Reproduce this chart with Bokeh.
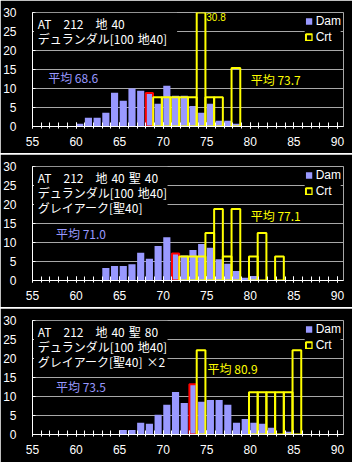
from bokeh.plotting import figure
from bokeh.models import Range1d, FixedTicker, Label, BoxAnnotation, Legend, LegendItem
from bokeh.layouts import column
from bokeh.embed import file_html
from bokeh.resources import INLINE

# ---------------- data ----------------
x_ticks = [55, 60, 65, 70, 75, 80, 85, 90]
y_ticks = [0, 5, 10, 15, 20, 25, 30]

# panel 1 : AT 212 地 40
p1_title = ["AT  212  地 40", "デュランダル[100 地40]"]
p1_dam_bins = [60, 61, 62, 63, 64, 65, 66, 67, 68, 69, 70, 71, 72, 73, 74, 75, 76, 77, 78]
p1_dam_pct = [0.7, 2.3, 2.3, 3.6, 8.9, 6.8, 10.0, 9.4, 8.8, 6.0, 10.7, 8.1, 8.1, 5.4, 3.6, 6.0, 1.5, 1.5, 0.7]
p1_crt_bins = [69, 70, 71, 72, 73, 74, 75, 76, 78]
p1_crt_pct = [7.7, 7.7, 7.7, 7.7, 7.7, 30.8, 7.7, 7.7, 15.4]
p1_dam_mean = 68.6
p1_crt_mean = 73.7

# panel 2 : AT 212 地 40 聖 40
p2_title = ["AT  212  地 40 聖 40", "デュランダル[100 地40]", "グレイアーク[聖40]"]
p2_dam_bins = [63, 64, 65, 66, 67, 68, 69, 70, 71, 72, 73, 74, 75, 76, 77, 78, 79, 80]
p2_dam_pct = [3.3, 3.8, 3.8, 4.3, 7.3, 5.7, 9.1, 11.4, 7.1, 6.6, 8.0, 9.6, 8.6, 5.6, 4.4, 2.5, 0.7, 1.2]
p2_crt_bins = [72, 73, 74, 75, 76, 77, 78, 80, 81, 83]
p2_crt_pct = [6.3, 6.3, 6.3, 12.5, 18.8, 6.3, 18.8, 6.3, 12.5, 6.3]
p2_dam_mean = 71.0
p2_crt_mean = 77.1

# panel 3 : AT 212 地 40 聖 80
p3_title = ["AT  212  地 40 聖 80", "デュランダル[100 地40]", "グレイアーク[聖40] ×2"]
p3_dam_bins = [65, 66, 67, 68, 69, 70, 71, 72, 73, 74, 75, 76, 77, 78, 79, 80, 81, 82, 84]
p3_dam_pct = [1.2, 1.2, 3.1, 2.8, 5.2, 7.8, 11.2, 8.3, 13.2, 8.6, 9.1, 9.1, 7.8, 3.1, 4.1, 3.1, 2.8, 1.8, 0.7]
p3_crt_bins = [74, 80, 81, 82, 83, 84, 85]
p3_crt_pct = [22.2, 11.1, 11.1, 11.1, 11.1, 11.1, 22.2]
p3_dam_mean = 73.5
p3_crt_mean = 80.9

# ---------------- style ----------------
PURPLE = "#9999ff"
YELLOW = "#ffff00"
RED = "#ff0000"
GRID = "#a8a8a8"
JP = "Noto Sans CJK JP"
LAT = "Liberation Sans"


def spaced(s):
    # keep visible gaps in SVG text (plain spaces are collapsed/narrow)
    return s.replace("  ", "\u2002\u2002").replace(" ", "\u2004")


def make_panel(title, dam_bins, dam_pct, crt_bins, crt_pct, dam_mean, crt_mean,
               dam_lbl, crt_lbl, box_right, box_bottom, height):
    p = figure(width=352, height=height, output_backend="svg", toolbar_location=None,
               x_range=Range1d(55, 90.7), y_range=Range1d(0, 30),
               min_border_left=31, min_border_right=9, min_border_top=12,
               min_border_bottom=height - 12 - 114)
    p.background_fill_color = "black"
    p.border_fill_color = "black"
    p.outline_line_color = GRID

    # Dam bars
    dam_r = p.vbar(x=[b + 0.42 for b in dam_bins], width=0.82, top=dam_pct, bottom=0,
                   fill_color=PURPLE, line_color=None)
    # highlighted bin containing the Dam mean
    hb = int(dam_mean)
    if hb in dam_bins:
        i = dam_bins.index(hb)
        p.vbar(x=[hb + 0.42], width=0.82, top=[dam_pct[i]], bottom=0,
               fill_color=None, line_color=RED, line_width=2)
    # Crt outlined bars
    crt_r = p.vbar(x=[b + 0.35 for b in crt_bins], width=1.0, top=crt_pct, bottom=0,
                   fill_color=None, line_color=YELLOW, line_width=2)

    # axes
    p.xaxis.ticker = FixedTicker(ticks=x_ticks, minor_ticks=list(range(55, 91)))
    p.yaxis.ticker = FixedTicker(ticks=y_ticks)
    for ax in (p.xaxis, p.yaxis):
        ax.axis_line_color = "white"
        ax.major_tick_line_color = "white"
        ax.minor_tick_line_color = "white"
        ax.major_label_text_color = "white"
        ax.major_label_text_font = LAT
        ax.major_label_text_font_size = "12px"
    p.xaxis.major_tick_in = 4
    p.xaxis.major_tick_out = 2
    p.xaxis.minor_tick_in = 4
    p.xaxis.minor_tick_out = 2
    p.xaxis.major_label_standoff = 8
    p.yaxis.major_tick_in = 3
    p.yaxis.major_tick_out = 0
    p.yaxis.minor_tick_line_color = None
    p.yaxis.major_label_standoff = 16
    p.xgrid.visible = False
    p.ygrid.grid_line_color = GRID

    # title block
    p.add_layout(BoxAnnotation(left=55.15, right=box_right, bottom=box_bottom, top=29.95,
                               fill_color="black", fill_alpha=1.0, line_alpha=0))
    for k, line in enumerate(title):
        p.add_layout(Label(x=55.6, y=27.1 - 4.0 * k, text=spaced(line),
                           text_color="white", text_font=JP, text_font_size="12px",
                           text_baseline="middle"))

    # value label for bars taller than the axis
    for b, v in zip(crt_bins, crt_pct):
        if v > 30:
            p.add_layout(Label(x=b + 0.95, y=28.7, text=f"{v:.1f}", text_color=YELLOW,
                               text_font=LAT, text_font_size="10px", text_baseline="middle"))

    # averages
    p.add_layout(Label(x=dam_lbl[0], y=dam_lbl[1], text=f"平均 {dam_mean:.1f}",
                       text_color=PURPLE, text_font=JP, text_font_size="12px",
                       text_baseline="middle"))
    p.add_layout(Label(x=crt_lbl[0], y=crt_lbl[1], text=f"平均 {crt_mean:.1f}",
                       text_color=YELLOW, text_font=JP, text_font_size="12px",
                       text_baseline="middle"))

    legend = Legend(items=[LegendItem(label="Dam", renderers=[dam_r]),
                           LegendItem(label="Crt", renderers=[crt_r])],
                    location="top_right")
    legend.background_fill_color = "black"
    legend.background_fill_alpha = 1.0
    legend.border_line_color = None
    legend.label_text_color = "white"
    legend.label_text_font = LAT
    legend.label_text_font_size = "12px"
    legend.glyph_width = 8
    legend.glyph_height = 8
    legend.label_height = 14
    legend.label_standoff = 3
    legend.spacing = 2
    legend.padding = 5
    legend.margin = 2
    p.add_layout(legend)
    return p


p1 = make_panel(p1_title, p1_dam_bins, p1_dam_pct, p1_crt_bins, p1_crt_pct,
                p1_dam_mean, p1_crt_mean, (56.8, 12.8), (80.05, 12.5), 71.6, 20.7, 153)
p2 = make_panel(p2_title, p2_dam_bins, p2_dam_pct, p2_crt_bins, p2_crt_pct,
                p2_dam_mean, p2_crt_mean, (57.7, 12.4), (80.05, 17.2), 70.5, 17.3, 153)
p3 = make_panel(p3_title, p3_dam_bins, p3_dam_pct, p3_crt_bins, p3_crt_pct,
                p3_dam_mean, p3_crt_mean, (57.7, 12.6), (75.1, 17.3), 70.5, 17.3, 154)

layout = column(p1, p2, p3, spacing=1)
open("out.html", "w").write(file_html(layout, INLINE))
